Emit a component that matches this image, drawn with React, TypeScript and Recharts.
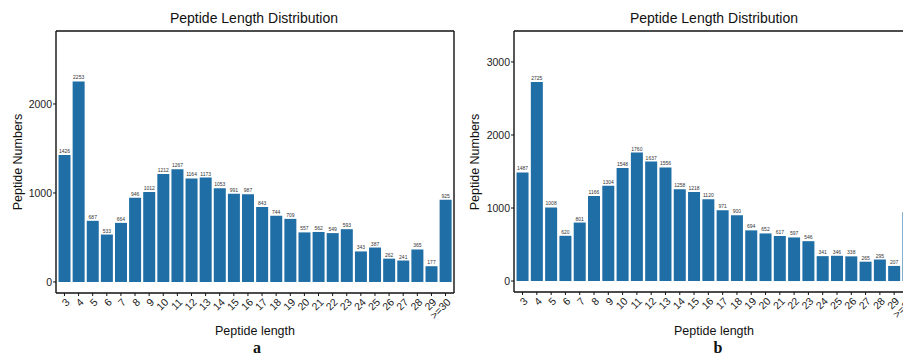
import { BarChart, Bar, XAxis, YAxis, LabelList } from 'recharts';

// Peptide length bins (x categories)
const categories = ['3', '4', '5', '6', '7', '8', '9', '10', '11', '12', '13', '14', '15', '16', '17', '18', '19', '20', '21', '22', '23', '24', '25', '26', '27', '28', '29', '>=30'];

// Panel a counts
const countsA = [1426, 2253, 687, 533, 664, 946, 1012, 1212, 1267, 1164, 1173, 1053, 991, 987, 843, 744, 709, 557, 562, 549, 593, 343, 387, 262, 241, 365, 177, 925];

// Panel b counts
const countsB = [1487, 2725, 1008, 620, 801, 1166, 1304, 1548, 1760, 1637, 1556, 1258, 1218, 1120, 971, 900, 694, 652, 617, 597, 546, 341, 346, 338, 265, 295, 207, 941];

const ticksA = [0, 1000, 2000];
const ticksB = [0, 1000, 2000, 3000];

const FONT = '"Liberation Sans", Arial, sans-serif';
const BAR_COLOR = '#1f6ea6';

const XTick = ({ x, y, payload }: any) => {
  const tx = x + 3;
  const ty = y + 3;
  return (
    <text
      x={tx}
      y={ty}
      textAnchor="end"
      dominantBaseline="central"
      transform={`rotate(-45, ${tx}, ${ty})`}
      fontSize={10.5}
      fontFamily={FONT}
      fill="#222"
    >
      {payload.value}
    </text>
  );
};

interface PanelProps {
  counts: number[];
  domain: [number, number];
  ticks: number[];
  width: number;
  margin: { top: number; right: number; bottom: number; left: number };
}

function Panel({ counts, domain, ticks, width, margin }: PanelProps) {
  const data = categories.map((len, i) => ({ len, count: counts[i] }));
  const axisLine = { stroke: '#111', strokeWidth: 1.4 };
  return (
    <BarChart width={width} height={358} data={data} margin={margin} barCategoryGap="8%">
      <XAxis
        xAxisId="bottom"
        dataKey="len"
        height={40}
        interval={0}
        tickSize={3}
        tickMargin={1}
        tickLine={{ stroke: '#111' }}
        axisLine={axisLine}
        padding={{ left: 1.4, right: 1.4 }}
        tick={<XTick />}
      />
      <XAxis xAxisId="top" orientation="top" dataKey="len" height={1} tick={false} tickLine={false} axisLine={axisLine} />
      <YAxis
        yAxisId="left"
        domain={domain}
        ticks={ticks}
        allowDataOverflow
        width={40}
        tickSize={3}
        tickMargin={1}
        tickLine={{ stroke: '#111' }}
        axisLine={axisLine}
        tick={{ fontSize: 10.5, fontFamily: FONT, fill: '#222' }}
      />
      <YAxis yAxisId="right" orientation="right" domain={domain} allowDataOverflow width={1} tick={false} tickLine={false} axisLine={axisLine} />
      <Bar xAxisId="bottom" yAxisId="left" dataKey="count" fill={BAR_COLOR} isAnimationActive={false}>
        <LabelList dataKey="count" position="top" offset={2} fontSize={5} fontFamily={FONT} fill="#333" />
      </Bar>
    </BarChart>
  );
}

const textStyle = (x: number, y: number, size: number, rotate = 0, family = FONT, weight: any = 'normal') => ({
  position: 'absolute' as const,
  left: x,
  top: y,
  transform: `translate(-50%, -50%) rotate(${rotate}deg)`,
  whiteSpace: 'nowrap' as const,
  fontSize: size,
  fontFamily: family,
  fontWeight: weight,
  color: '#111',
  lineHeight: 1,
});

export default function App() {
  return (
    <div style={{ position: 'fixed', left: 0, top: 0, width: 903, height: 358, overflow: 'hidden', background: '#fff' }}>
      <div style={{ position: 'absolute', left: 0, top: 0 }}>
        <Panel counts={countsA} domain={[-124, 2820]} ticks={ticksA} width={460} margin={{ top: 30, right: 5, bottom: 25, left: 16 }} />
      </div>
      <div style={{ position: 'absolute', left: 460, top: 0 }}>
        <Panel counts={countsB} domain={[-150, 3424]} ticks={ticksB} width={470} margin={{ top: 30, right: 12, bottom: 26, left: 14 }} />
      </div>

      <div style={textStyle(254, 18, 14)}>Peptide Length Distribution</div>
      <div style={textStyle(714, 18, 14)}>Peptide Length Distribution</div>

      <div style={textStyle(18, 162, 12.5, -90)}>Peptide Numbers</div>
      <div style={textStyle(475, 162, 12.5, -90)}>Peptide Numbers</div>

      <div style={textStyle(255, 331, 12.5)}>Peptide length</div>
      <div style={textStyle(714, 331, 12.5)}>Peptide length</div>

      <div style={textStyle(257, 348, 16, 0, '"Liberation Serif", serif', 'bold')}>a</div>
      <div style={textStyle(718, 348, 16, 0, '"Liberation Serif", serif', 'bold')}>b</div>
    </div>
  );
}
